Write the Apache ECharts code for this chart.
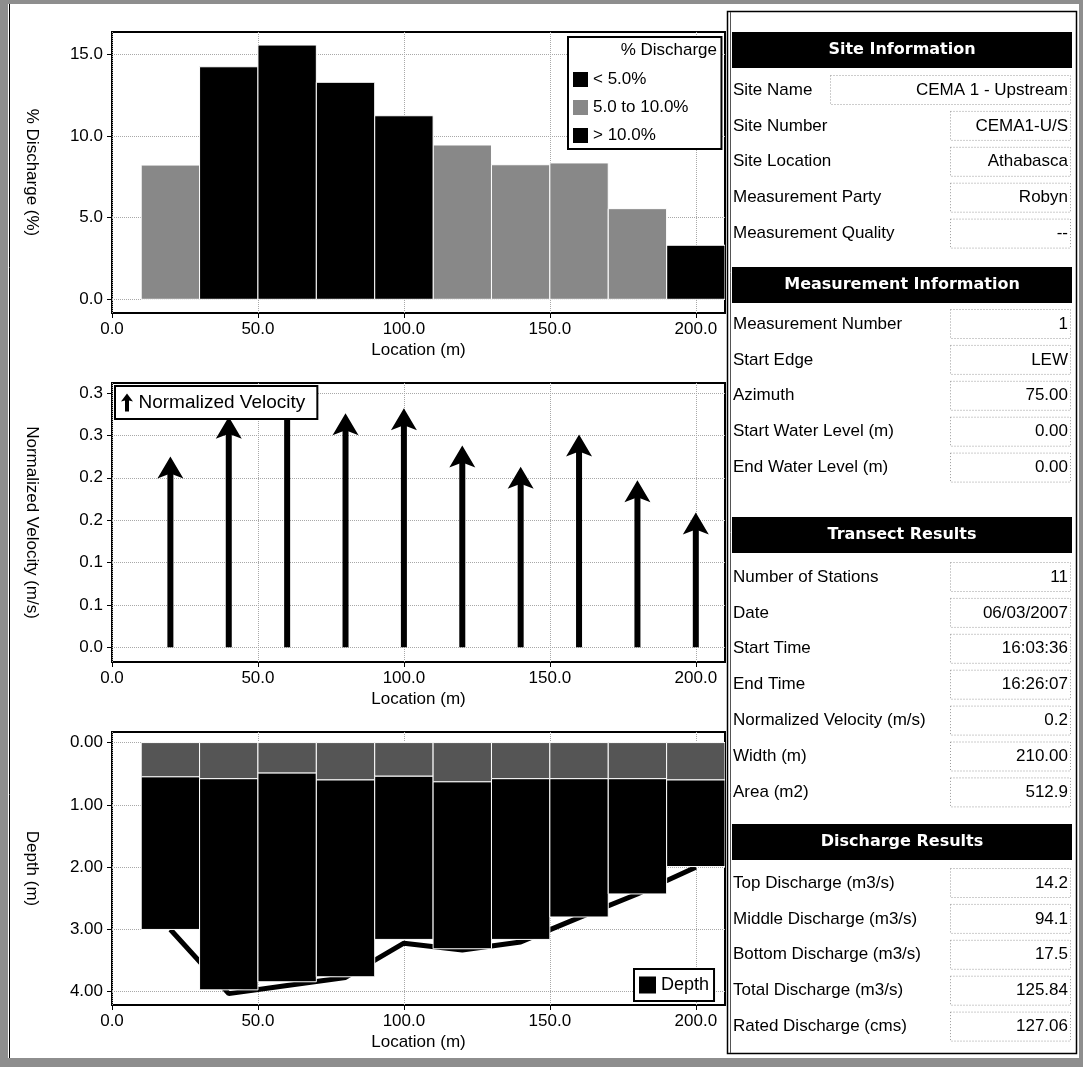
<!DOCTYPE html>
<html><head><meta charset="utf-8">
<script src="https://cdn.jsdelivr.net/npm/echarts@6/dist/echarts.min.js"></script>
<style>html,body{margin:0;padding:0;background:#fff}#c{width:1083px;height:1067px}</style>
</head><body><div id="c"></div>
<script>
// ---------------- data ----------------
const stations = [20, 40, 60, 80, 100, 120, 140, 160, 180, 200];
const panelWidth = 20;
const pctDischarge = [8.22, 14.24, 15.57, 13.29, 11.24, 9.45, 8.24, 8.35, 5.55, 3.31];
const normVelocity = [0.225, 0.272, 0.300, 0.276, 0.282, 0.238, 0.213, 0.251, 0.197, 0.159];
const topDepth = [0.55, 0.58, 0.49, 0.60, 0.54, 0.63, 0.58, 0.58, 0.58, 0.60];
const depth = [3.00, 3.97, 3.84, 3.76, 3.16, 3.31, 3.16, 2.80, 2.43, 1.99];
const profileX = [20, 40, 60, 80, 100, 120, 140, 160, 180, 200];
const profileDepth = [3.00, 4.03, 3.90, 3.77, 3.22, 3.33, 3.20, 2.81, 2.43, 2.00];

const xTicks = [0, 50, 100, 150, 200];
const xTickLabels = ['0.0', '50.0', '100.0', '150.0', '200.0'];
const yTicks1 = [0, 5, 10, 15];
const yTickLabels1 = ['0.0', '5.0', '10.0', '15.0'];
const yTicks2 = [0, 0.05, 0.1, 0.15, 0.2, 0.25, 0.3];
const yTickLabels2 = ['0.0', '0.1', '0.1', '0.2', '0.2', '0.3', '0.3'];
const yTicks3 = [0, 1, 2, 3, 4];
const yTickLabels3 = ['0.00', '1.00', '2.00', '3.00', '4.00'];

const dischargeClasses = ['< 5.0%', '5.0 to 10.0%', '> 10.0%'];

const sectionTitles = ['Site Information', 'Measurement Information', 'Transect Results', 'Discharge Results'];
const siteLabels = ['Site Name', 'Site Number', 'Site Location', 'Measurement Party', 'Measurement Quality'];
const siteValues = ['CEMA 1 - Upstream', 'CEMA1-U/S', 'Athabasca', 'Robyn', '--'];
const measLabels = ['Measurement Number', 'Start Edge', 'Azimuth', 'Start Water Level (m)', 'End Water Level (m)'];
const measValues = ['1', 'LEW', '75.00', '0.00', '0.00'];
const transectLabels = ['Number of Stations', 'Date', 'Start Time', 'End Time', 'Normalized Velocity (m/s)', 'Width (m)', 'Area (m2)'];
const transectValues = ['11', '06/03/2007', '16:03:36', '16:26:07', '0.2', '210.00', '512.9'];
const dischargeLabels = ['Top Discharge (m3/s)', 'Middle Discharge (m3/s)', 'Bottom Discharge (m3/s)', 'Total Discharge (m3/s)', 'Rated Discharge (cms)'];
const dischargeValues = ['14.2', '94.1', '17.5', '125.84', '127.06'];

// ---------------- layout / style ----------------
const FONT = 'Liberation Sans';
const TXT = { color: '#000', fontSize: 17, fontFamily: FONT };
const chart = echarts.init(document.getElementById('c'));

function labelFor(ticks, labels) {
  return function (v) {
    let best = 0;
    for (let i = 1; i < ticks.length; i++) if (Math.abs(ticks[i] - v) < Math.abs(ticks[best] - v)) best = i;
    return labels[best];
  };
}

const grids = [
  { left: 112, top: 32, width: 613, height: 281 },
  { left: 112, top: 383, width: 613, height: 279 },
  { left: 112, top: 732, width: 613, height: 273 }
].map(g => Object.assign(g, { show: true, borderColor: '#000', borderWidth: 2, backgroundColor: 'transparent' }));

const splitStyle = { show: true, lineStyle: { color: '#a8a8a8', type: 'dotted', width: 1 } };

const xAxes = [0, 1, 2].map(i => ({
  type: 'value', gridIndex: i, min: 0, max: 210,
  axisLine: { show: false, onZero: false },
  axisTick: { show: true, length: 5, customValues: xTicks, lineStyle: { color: '#000' } },
  axisLabel: Object.assign({ customValues: xTicks, formatter: labelFor(xTicks, xTickLabels), margin: 8 }, TXT),
  splitLine: splitStyle,
  name: 'Location (m)', nameLocation: 'middle', nameGap: 29,
  nameTextStyle: Object.assign({}, TXT)
}));

function yAxis(i, min, max, ticks, labels, name, inverse) {
  return {
    type: 'value', gridIndex: i, min: min, max: max, inverse: !!inverse,
    axisLine: { show: false, onZero: false },
    axisTick: { show: true, length: 5, customValues: ticks, lineStyle: { color: '#000' } },
    axisLabel: Object.assign({ customValues: ticks, formatter: labelFor(ticks, labels), margin: 9 }, TXT),
    splitLine: splitStyle,
    name: name, nameLocation: 'middle', nameRotate: -90, nameGap: 72,
    nameTextStyle: Object.assign({}, TXT)
  };
}
const yAxes = [
  yAxis(0, -0.84, 16.37, yTicks1, yTickLabels1, '% Discharge (%)'),
  yAxis(1, -0.0174, 0.3118, yTicks2, yTickLabels2, 'Normalized Velocity (m/s)'),
  yAxis(2, -0.17, 4.213, yTicks3, yTickLabels3, 'Depth (m)', true)
];

function dischargeClass(v) { return v < 5 ? 0 : (v <= 10 ? 1 : 2); }
const classColors = ['#000000', '#888888', '#000000'];

function barItem(params, api) {
  const p0 = api.coord([api.value(0), 0]);
  const p1 = api.coord([api.value(1), api.value(2)]);
  return {
    type: 'rect',
    shape: { x: p0[0], y: p1[1], width: p1[0] - p0[0], height: p0[1] - p1[1] },
    style: { fill: api.visual('color'), stroke: '#fff', lineWidth: 1 }
  };
}

const barSeries = dischargeClasses.map((name, c) => ({
  type: 'custom', name: name, xAxisIndex: 0, yAxisIndex: 0, clip: true,
  itemStyle: { color: classColors[c] },
  encode: { x: [0, 1], y: 2 },
  data: stations.map((s, i) => [s - panelWidth / 2, s + panelWidth / 2, pctDischarge[i], i])
    .filter(d => dischargeClass(d[2]) === c),
  renderItem: barItem
}));

const arrowSeries = {
  type: 'custom', name: 'Normalized Velocity', xAxisIndex: 1, yAxisIndex: 1, clip: true, z: 2,
  itemStyle: { color: '#000' },
  encode: { x: 0, y: 1 },
  data: stations.map((s, i) => [s, normVelocity[i]]),
  renderItem: function (params, api) {
    const b = api.coord([api.value(0), 0]);
    const t = api.coord([api.value(0), api.value(1)]);
    const hw = 13, hh = 22, notch = 5, sw = 3;
    return {
      type: 'group', children: [
        { type: 'rect', shape: { x: b[0] - sw, y: t[1] + hh - notch - 1, width: 2 * sw, height: b[1] - (t[1] + hh - notch - 1) }, style: { fill: '#000' } },
        { type: 'polygon', shape: { points: [[t[0], t[1]], [t[0] + hw, t[1] + hh], [t[0], t[1] + hh - notch], [t[0] - hw, t[1] + hh]] }, style: { fill: '#000' } }
      ]
    };
  }
};

const profileSeries = {
  type: 'line', name: 'Profile', xAxisIndex: 2, yAxisIndex: 2, z: 1,
  symbol: 'none', lineStyle: { color: '#000', width: 5 }, itemStyle: { color: '#000' },
  data: profileX.map((x, i) => [x, profileDepth[i]])
};

const depthSeries = {
  type: 'custom', name: 'Depth', xAxisIndex: 2, yAxisIndex: 2, clip: true, z: 2,
  itemStyle: { color: '#000' },
  encode: { x: 0, y: 2 },
  data: stations.map((s, i) => [s, topDepth[i], depth[i]]),
  renderItem: function (params, api) {
    const x = api.value(0);
    const a = api.coord([x - panelWidth / 2, 0]);
    const m = api.coord([x + panelWidth / 2, api.value(1)]);
    const d = api.coord([x + panelWidth / 2, api.value(2)]);
    return {
      type: 'group', children: [
        { type: 'rect', shape: { x: a[0], y: a[1], width: m[0] - a[0], height: m[1] - a[1] }, style: { fill: '#555555', stroke: '#fff', lineWidth: 1 } },
        { type: 'rect', shape: { x: a[0], y: m[1], width: m[0] - a[0], height: d[1] - m[1] }, style: { fill: '#000', stroke: '#fff', lineWidth: 1 } }
      ]
    };
  }
};

const arrowIcon = 'path://M6,0 L12,8 L8,7 L8,18 L4,18 L4,7 L0,8 Z';

const legends = [
  {
    data: dischargeClasses.map(n => ({ name: n, icon: 'rect' })),
    orient: 'vertical', left: 568, top: 37, padding: [34, 33, 5, 5],
    itemWidth: 15, itemHeight: 15, itemGap: 11, itemTextGap: 4,
    backgroundColor: '#fff', borderColor: '#000', borderWidth: 2, selectedMode: false,
    textStyle: Object.assign({}, TXT)
  },
  {
    data: [{ name: 'Normalized Velocity', icon: arrowIcon }],
    orient: 'vertical', left: 115, top: 386, padding: [7, 12, 7, 6],
    itemWidth: 13, itemHeight: 18, itemTextGap: 6,
    backgroundColor: '#fff', borderColor: '#000', borderWidth: 2, selectedMode: false,
    textStyle: Object.assign({}, TXT, { fontSize: 19 })
  },
  {
    data: [{ name: 'Depth', icon: 'rect' }],
    orient: 'vertical', left: 634, top: 969, padding: [7, 5, 7, 5],
    itemWidth: 17, itemHeight: 17, itemTextGap: 3,
    backgroundColor: '#fff', borderColor: '#000', borderWidth: 2, selectedMode: false,
    textStyle: Object.assign({}, TXT, { fontSize: 18 })
  }
];

// ---------------- right panel (graphic) ----------------
const sections = [
  { title: sectionTitles[0], headerY: 32, rowY0: 90, labels: siteLabels, values: siteValues },
  { title: sectionTitles[1], headerY: 267, rowY0: 324, labels: measLabels, values: measValues },
  { title: sectionTitles[2], headerY: 517, rowY0: 577, labels: transectLabels, values: transectValues },
  { title: sectionTitles[3], headerY: 824, rowY0: 883, labels: dischargeLabels, values: dischargeValues }
];
const ROW_STEP = 35.9;
const graphics = [];
function txt(x, y, text, font, fill, align) {
  return { type: 'text', x: x, y: y, z: 100, style: { text: text, font: font, fill: fill, align: align, textAlign: align, verticalAlign: 'middle', textVerticalAlign: 'middle' } };
}
// outer window frame
graphics.push({ type: 'rect', z: 90, shape: { x: 0, y: 0, width: 8, height: 1067 }, style: { fill: '#8e8e8e' } });
graphics.push({ type: 'rect', z: 90, shape: { x: 0, y: 0, width: 1083, height: 4 }, style: { fill: '#8e8e8e' } });
graphics.push({ type: 'rect', z: 90, shape: { x: 0, y: 1058, width: 1083, height: 9 }, style: { fill: '#8e8e8e' } });
graphics.push({ type: 'rect', z: 90, shape: { x: 1079, y: 0, width: 4, height: 1067 }, style: { fill: '#8e8e8e' } });
graphics.push({ type: 'line', z: 90, shape: { x1: 9.5, y1: 4, x2: 9.5, y2: 1058 }, style: { stroke: '#000', lineWidth: 1 } });
// panel border
graphics.push({ type: 'rect', z: 90, shape: { x: 727.5, y: 11.5, width: 349, height: 1042 }, style: { fill: 'none', stroke: '#000', lineWidth: 1.5 } });
graphics.push({ type: 'line', z: 90, shape: { x1: 730.5, y1: 12, x2: 730.5, y2: 1053 }, style: { stroke: '#555', lineWidth: 1 } });

sections.forEach(sec => {
  graphics.push({ type: 'rect', z: 95, shape: { x: 732, y: sec.headerY, width: 340, height: 36 }, style: { fill: '#000' } });
  graphics.push(txt(902, sec.headerY + 18, sec.title, 'bold 16px "DejaVu Sans"', '#fff', 'center'));
  sec.labels.forEach((lab, i) => {
    const y = sec.rowY0 + i * ROW_STEP;
    const boxLeft = (sec === sections[0] && i === 0) ? 830 : 950;
    graphics.push({ type: 'rect', z: 95, shape: { x: boxLeft + 0.5, y: y - 14.5, width: 1070 - boxLeft, height: 29 }, style: { fill: 'none', stroke: '#9a9a9a', lineWidth: 1, lineDash: [1, 2] } });
    graphics.push(txt(733, y, lab, '17px "Liberation Sans"', '#000', 'left'));
    graphics.push(txt(1068, y, sec.values[i], '17px "Liberation Sans"', '#000', 'right'));
  });
});
// legend title of the top chart
graphics.push(txt(717, 50, '% Discharge', '17px "Liberation Sans"', '#000', 'right'));

chart.setOption({
  animation: false,
  backgroundColor: '#fff',
  grid: grids,
  xAxis: xAxes,
  yAxis: yAxes,
  legend: legends,
  series: barSeries.concat([arrowSeries, profileSeries, depthSeries]),
  graphic: { elements: graphics }
});
</script></body></html>
